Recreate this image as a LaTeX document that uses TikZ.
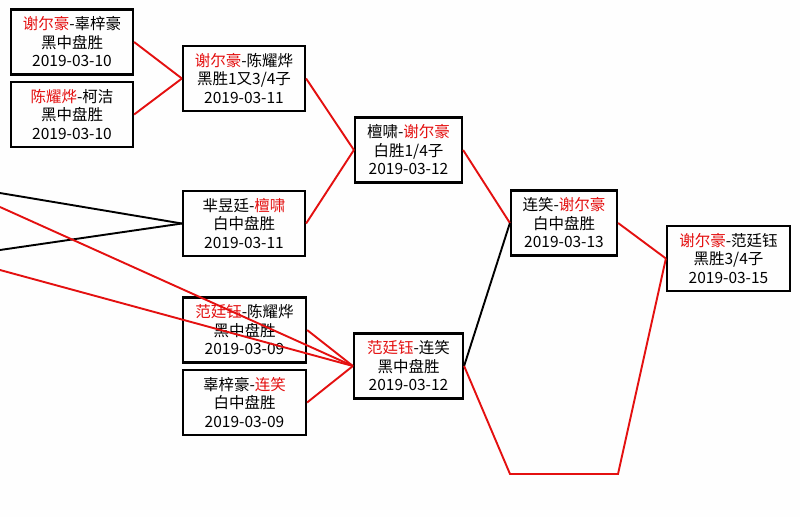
\documentclass[tikz,border=0pt]{standalone}
\usepackage{fontspec}
\setmainfont{Noto Sans CJK SC}
\usepackage{tikz}
\usetikzlibrary{positioning}
\definecolor{winred}{RGB}{228,16,16}
\definecolor{paper}{RGB}{254,254,254}
\tikzset{
  match/.style={draw=black, line width=2.2pt, minimum width=122pt, minimum height=65pt,
                inner sep=0pt, align=center, font=\fontsize{15.5}{18.5}\selectfont},
  narrow/.style={match, minimum width=107pt},
  winline/.style={winred, line width=1.9pt},
  loseline/.style={black, line width=1.9pt},
}
\newcommand{\nm}[1]{\textcolor{winred}{#1}}

\begin{document}
\begin{tikzpicture}[x=1pt, y=-1pt]
  \fill[paper] (0,0) rectangle (800,517);
  \useasboundingbox (0,0) rectangle (800,517);
  % first column
  \node[match] (a1) at (72,42)      {\nm{谢尔豪}-辜梓豪\\黑中盘胜\\2019-03-10};
  \node[match] (a2) at (72,114.5)   {\nm{陈耀烨}-柯洁\\黑中盘胜\\2019-03-10};
  % second column
  \node[match] (b1) at (244,78.5)   {\nm{谢尔豪}-陈耀烨\\黑胜1又3/4子\\2019-03-11};
  \node[match] (b2) at (244,223.5)  {芈昱廷-\nm{檀啸}\\白中盘胜\\2019-03-11};
  \node[match, minimum width=123pt] (b3) at (244.5,330)  {\nm{范廷钰}-陈耀烨\\黑中盘胜\\2019-03-09};
  \node[match, minimum width=123pt] (b4) at (244.5,402.5){辜梓豪-\nm{连笑}\\白中盘胜\\2019-03-09};
  % third column
  \node[narrow] (c1) at (408.5,150) {檀啸-\nm{谢尔豪}\\白胜1/4子\\2019-03-12};
  \node[narrow, minimum width=109pt] (c2) at (408.5,366) {\nm{范廷钰}-连笑\\黑中盘胜\\2019-03-12};
  % semi final and final
  \node[narrow, minimum width=106pt] (d1) at (564,223) {连笑-\nm{谢尔豪}\\白中盘胜\\2019-03-13};
  \node[match, minimum width=123pt] (e1) at (728.5,258.5) {\nm{谢尔豪}-范廷钰\\黑胜3/4子\\2019-03-15};

  \coordinate (l1) at (0,193);
  \coordinate (l2) at (0,250);
  \coordinate (l3) at (0,207);
  \coordinate (l4) at (0,270);
  \coordinate (k1) at (510,474);
  \coordinate (k2) at (618,474);

  \draw[winline] (a1.east) -- (b1.west);
  \draw[winline] (a2.east) -- (b1.west);
  \draw[loseline] (l1) -- (b2.west);
  \draw[loseline] (l2) -- (b2.west);
  \draw[winline] (l3) -- (c2.west);
  \draw[winline] (l4) -- (c2.west);
  \draw[winline] (b3.east) -- (c2.west);
  \draw[winline] (b4.east) -- (c2.west);
  \draw[winline] (b1.east) -- (c1.west);
  \draw[winline] (b2.east) -- (c1.west);
  \draw[winline] (c1.east) -- (d1.west);
  \draw[loseline] (c2.east) -- (d1.west);
  \draw[winline] (d1.east) -- (e1.west);
  \draw[winline] (c2.east) -- (k1) -- (k2) -- (e1.west);
\end{tikzpicture}
\end{document}
